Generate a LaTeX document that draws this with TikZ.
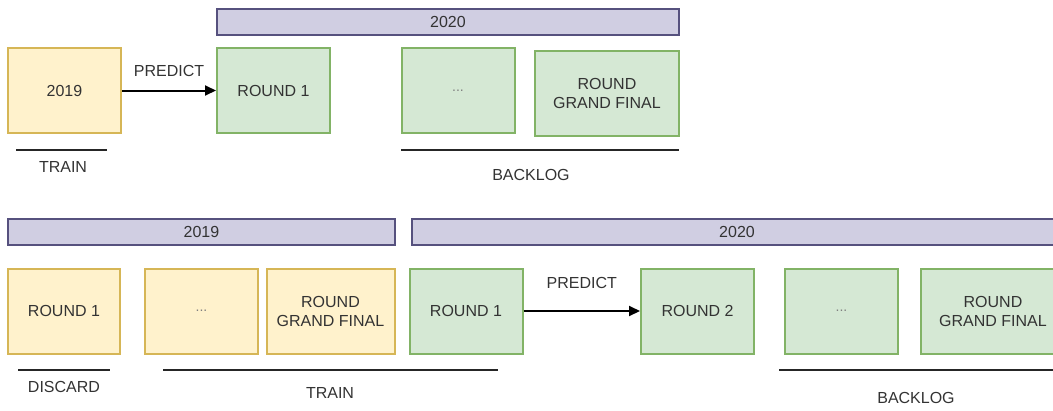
\documentclass[tikz,border=0pt]{standalone}
\usepackage{fontspec}
\setmainfont{Liberation Sans}
\usetikzlibrary{arrows.meta}
\definecolor{yfill}{HTML}{FFF2CC}
\definecolor{ydraw}{HTML}{D6B656}
\definecolor{gfill}{HTML}{D5E8D4}
\definecolor{gdraw}{HTML}{82B366}
\definecolor{pfill}{HTML}{D0CEE2}
\definecolor{pdraw}{HTML}{56517E}
\definecolor{txt}{HTML}{333333}
\begin{document}
\begin{tikzpicture}[x=1pt,y=-1pt,
  every node/.style={font=\fontsize{16}{19}\selectfont, text=txt, inner sep=0pt, align=center},
  ybox/.style={draw=ydraw, fill=yfill, line width=2pt, minimum width=113pt, minimum height=85pt},
  gbox/.style={draw=gdraw, fill=gfill, line width=2pt, minimum width=113pt, minimum height=85pt},
  pbar/.style={draw=pdraw, fill=pfill, line width=2pt, minimum height=26pt},
  dots/.style={font=\fontsize{14}{16}\selectfont, text=black!50},
  uline/.style={draw=black!85, line width=2pt},
  arr/.style={draw=black, line width=2pt, -{Triangle[length=11pt,width=10pt]}}
]
\useasboundingbox (0,0) rectangle (1053,410);
% top row
\node[pbar, minimum width=462pt] (bar1) at (448,22) {2020};
\node[ybox] (t2019) at (64.5,90.5) {2019};
\node[gbox] (tr1) at (273.5,90.5) {ROUND 1};
\node[gbox] (tdots) at (458,90.5) {\phantom{.}};
\node[dots] (tdotst) at (tdots.center) {...};
\node[gbox, minimum width=144pt] (tgf) at (607,93.5) {ROUND\\GRAND FINAL};
\draw[arr] (t2019) -- node[above=13pt] (tpred) {PREDICT} (tr1);
\coordinate (ta1) at (16,150); \coordinate (ta2) at (107,150);
\draw[uline] (ta1) -- (ta2);
\node (ttrain) at (63,167) {TRAIN};
\coordinate (tb1) at (401,150); \coordinate (tb2) at (679,150);
\draw[uline] (tb1) -- (tb2);
\node (tback) at (531,175) {BACKLOG};
% bottom row
\node[pbar, minimum width=387pt] (bar2) at (201.5,232) {2019};
\node[pbar, minimum width=650pt] (bar3) at (737,232) {2020};
\node[ybox, minimum width=112pt] (b1) at (64,311) {ROUND 1};
\node[ybox] (b2) at (201.5,311) {\phantom{.}};
\node[dots] (b2t) at (b2.center) {...};
\node[ybox, minimum width=128pt] (b3) at (330.5,311) {ROUND\\GRAND FINAL};
\node[gbox] (g1) at (466,311) {ROUND 1};
\node[gbox] (g2) at (697.5,311) {ROUND 2};
\node[gbox] (g3) at (841.5,311) {\phantom{.}};
\node[dots] (g3t) at (g3.center) {...};
\node[gbox, minimum width=144pt] (g4) at (993,311) {ROUND\\GRAND FINAL};
\draw[arr] (g1) -- node[above=21pt] (bpred) {PREDICT} (g2);
\coordinate (ba1) at (18,370); \coordinate (ba2) at (110,370);
\draw[uline] (ba1) -- (ba2);
\node (bdisc) at (64,387) {DISCARD};
\coordinate (bb1) at (163,370); \coordinate (bb2) at (498,370);
\draw[uline] (bb1) -- (bb2);
\node (btrain) at (330,393) {TRAIN};
\coordinate (bc1) at (779,370); \coordinate (bc2) at (1060,370);
\draw[uline] (bc1) -- (bc2);
\node (bback) at (916,398) {BACKLOG};
\end{tikzpicture}
\end{document}
